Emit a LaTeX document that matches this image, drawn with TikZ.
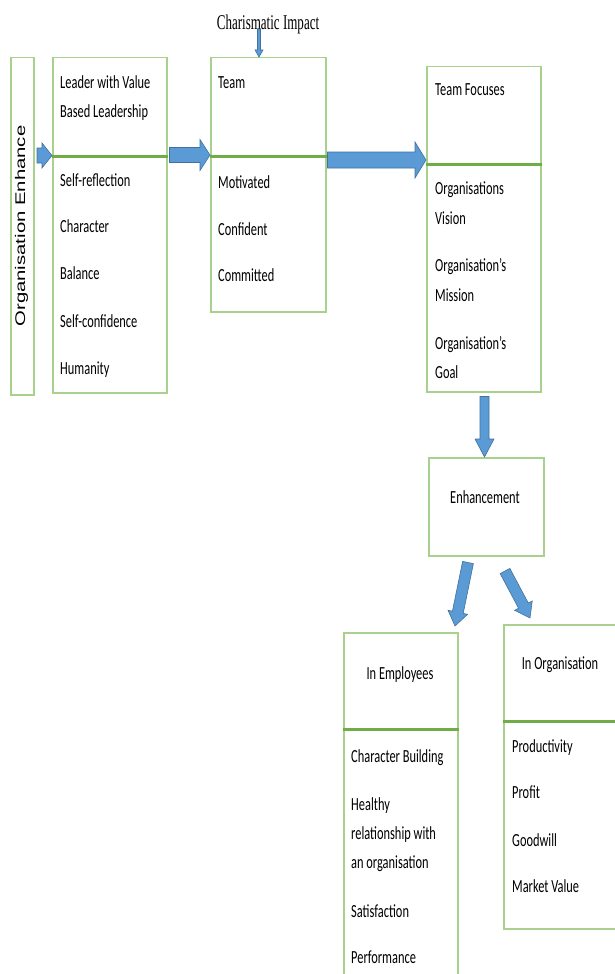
\documentclass[tikz,border=0pt]{standalone}
\usepackage{fontspec}
\setmainfont{Carlito}[FakeStretch=0.67]
\newfontfamily\cifont{Liberation Serif}[FakeStretch=0.62]
\newfontfamily\oefont{Liberation Sans}[FakeStretch=1.45]
\usetikzlibrary{calc}
\definecolor{boxgreen}{HTML}{A9D18E}
\definecolor{divgreen}{HTML}{70AD47}
\definecolor{arrfill}{HTML}{5B9BD5}
\definecolor{arrline}{HTML}{41719C}
\tikzset{
  box/.style={draw=boxgreen, line width=1.5pt, anchor=north west, inner sep=0pt},
  divider/.style={draw=divgreen, line width=3pt},
  lbl/.style={anchor=mid west, inner sep=0pt, yshift=-4pt, font=\fontsize{18.5}{20}\selectfont, text=black},
  blockarrow/.style={fill=arrfill, draw=arrline, line width=0.6pt, line join=miter},
}
% start, end, shaft half width, head half width, head length (all in pt)
\newcommand{\blockarr}[5]{%
  \path (#1) coordinate (ba) (#2) coordinate (bb);
  \path ($(bb)!#5pt!(ba)$) coordinate (bh);
  \filldraw[blockarrow] ($(ba)!#3pt!90:(bb)$) -- ($(bh)!#3pt!90:(bb)$) -- ($(bh)!#4pt!90:(bb)$)
    -- (bb) -- ($(bh)!#4pt!-90:(bb)$) -- ($(bh)!#3pt!-90:(bb)$) -- ($(ba)!#3pt!-90:(bb)$) -- cycle;
}
\begin{document}
\begin{tikzpicture}[x=1pt,y=-1pt]
\useasboundingbox (0,0) rectangle (615,974);
\clip (0,0) rectangle (615,974);
\fill[white] (0,0) rectangle (615,974);

% boxes
\node[box, minimum width=23pt, minimum height=337pt] (org) at (10,57) {};
\node[box, minimum width=114pt, minimum height=335pt] (lead) at (52,57) {};
\node[box, minimum width=115pt, minimum height=254pt] (team) at (210,57) {};
\node[box, minimum width=114pt, minimum height=325pt] (tf) at (426,66) {};
\node[box, minimum width=115pt, minimum height=98pt] (enh) at (428,457) {};
\node[box, minimum width=114pt, minimum height=360pt] (emp) at (343,632) {};
\node[box, minimum width=120pt, minimum height=304pt] (orgn) at (503,624) {};

% dividers
\draw[divider] ($(lead.north west)+(0,99)$) -- ($(lead.north east)+(0,99)$);
\draw[divider] ($(team.north west)+(0,99)$) -- ($(team.north east)+(0,99)$);
\draw[divider] ($(tf.north west)+(0,98)$) -- ($(tf.north east)+(0,98)$);
\draw[divider] ($(emp.north west)+(0,97)$) -- ($(emp.north east)+(0,97)$);
\draw[divider] ($(orgn.north west)+(0,97)$) -- ($(orgn.north east)+(0,97)$);

% rotated label
\node[rotate=90, inner sep=0pt, font=\oefont\fontsize{14}{16}\selectfont, text=black] (oe) at (21.5,226) {Organisation Enhance};

% top label
\node[anchor=mid, inner sep=0pt, font=\cifont\fontsize{21}{24}\selectfont, text=black] (ci) at (268,27) {Charismatic Impact};

% leader box texts
\node[lbl] (l1) at (60,82) {Leader with Value};
\node[lbl] (l2) at (60,111) {Based Leadership};
\node[lbl] (l3) at (60,180) {Self-reflection};
\node[lbl] (l4) at (60,226) {Character};
\node[lbl] (l5) at (60,273) {Balance};
\node[lbl] (l6) at (60,321) {Self-confidence};
\node[lbl] (l7) at (60,368) {Humanity};

% team texts
\node[lbl] (m1) at (218,82) {Team};
\node[lbl] (m2) at (218,182) {Motivated};
\node[lbl] (m3) at (218,229) {Confident};
\node[lbl] (m4) at (218,275) {Committed};

% team focuses texts
\node[lbl] (f1) at (435,89) {Team Focuses};
\node[lbl] (f2) at (435,188) {Organisations};
\node[lbl] (f3) at (435,218) {Vision};
\node[lbl] (f4) at (435,265) {Organisation's};
\node[lbl] (f5) at (435,295) {Mission};
\node[lbl] (f6) at (435,343) {Organisation's};
\node[lbl] (f7) at (435,372) {Goal};

% enhancement
\node[lbl, anchor=mid] (e1) at (485,497) {Enhancement};

% employees
\node[lbl, anchor=mid] (p1) at (400,673) {In Employees};
\node[lbl] (p2) at (351,756) {Character Building};
\node[lbl] (p3) at (351,804) {Healthy};
\node[lbl] (p4) at (351,833) {relationship with};
\node[lbl] (p5) at (351,862) {an organisation};
\node[lbl] (p6) at (351,911) {Satisfaction};
\node[lbl] (p7) at (351,957) {Performance};

% organisation
\node[lbl, anchor=mid] (o1) at (560,663) {In Organisation};
\node[lbl] (o2) at (512,746) {Productivity};
\node[lbl] (o3) at (512,792) {Profit};
\node[lbl] (o4) at (512,840) {Goodwill};
\node[lbl] (o5) at (512,886) {Market Value};

% arrows
\coordinate (cia) at (259,29);
\blockarr{cia}{team.north -| cia}{1.5}{4}{7}
\blockarr{$(org.east |- 0,155.5)+(2.5,0)$}{lead.west |- 0,155.5}{7.5}{12.5}{10}
\blockarr{$(lead.east |- 0,155)+(2,0)$}{team.west |- 0,155}{7.5}{15.5}{10}
\blockarr{$(team.east |- 0,160)+(1,0)$}{tf.west |- 0,160}{8}{18}{11}
\blockarr{$(tf.south -| 484.5,0)+(0,4)$}{enh.north -| 484.5,0}{4.5}{9.5}{18}
\coordinate (ea) at (468,562.5);
\coordinate (eb) at (455,626);
\blockarr{ea}{eb}{5.5}{10}{14}
\coordinate (ec) at (505,571);
\coordinate (ed) at (530,618);
\blockarr{ec}{ed}{5.5}{10}{14}
\end{tikzpicture}
\end{document}
